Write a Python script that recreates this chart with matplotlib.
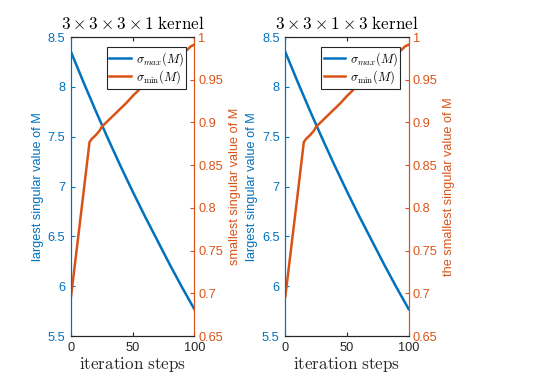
import matplotlib
matplotlib.use("Agg")
import matplotlib.pyplot as plt

plt.rcParams["font.family"] = ["Liberation Sans", "DejaVu Sans"]
plt.rcParams["mathtext.fontset"] = "cm"

BLUE = "#0072BD"
ORANGE = "#D95319"
DARK = "#262626"

# data
steps_max = [0, 10, 20, 30, 40, 50, 60, 70, 80, 90, 100]
sigma_max = [8.35, 8.05, 7.76, 7.48, 7.21, 6.95, 6.70, 6.46, 6.22, 5.99, 5.77]

steps_min = [0, 5, 10, 15, 17, 20, 23, 25, 30, 35, 40, 45, 50, 55, 60,
             65, 70, 75, 80, 85, 90, 95, 97, 100]
sigma_min = [0.696, 0.756, 0.816, 0.877, 0.881, 0.885, 0.890, 0.895, 0.902,
             0.909, 0.916, 0.923, 0.931, 0.938, 0.946, 0.952, 0.958, 0.964,
             0.969, 0.975, 0.980, 0.986, 0.989, 0.991]

titles = [r"$3\times3\times3\times1\ \mathrm{kernel}$",
          r"$3\times3\times1\times3\ \mathrm{kernel}$"]
right_labels = ["smallest singular value of M",
                "the smallest singular value of M"]
left_label = "largest singular value of M"

fig = plt.figure(figsize=(5.45, 3.86), dpi=100)
positions = [[0.1303, 0.1295, 0.2262, 0.7746],
             [0.5235, 0.1295, 0.2264, 0.7746]]

fs = 9.2
for pos, title, rlab in zip(positions, titles, right_labels):
    ax = fig.add_axes(pos)
    ax2 = ax.twinx()

    l1, = ax.plot(steps_max, sigma_max, color=BLUE, lw=1.8)
    l2, = ax2.plot(steps_min, sigma_min, color=ORANGE, lw=1.8)

    ax.set_xlim(0, 100)
    ax.set_ylim(5.5, 8.5)
    ax2.set_ylim(0.65, 1.0)
    ax.set_xticks([0, 50, 100])
    ax.set_yticks([5.5, 6, 6.5, 7, 7.5, 8, 8.5])
    ax2.set_yticks([0.65, 0.7, 0.75, 0.8, 0.85, 0.9, 0.95, 1.0])
    ax.set_yticklabels(["5.5", "6", "6.5", "7", "7.5", "8", "8.5"])
    ax2.set_yticklabels(["0.65", "0.7", "0.75", "0.8", "0.85", "0.9", "0.95", "1"])

    ax.tick_params(axis="x", direction="in", length=3, labelsize=fs,
                   colors=DARK, top=True, pad=4)
    ax.tick_params(axis="y", direction="in", length=3, labelsize=fs,
                   colors=BLUE, pad=4)
    ax2.tick_params(axis="y", direction="in", length=3, labelsize=fs,
                    colors=ORANGE, pad=3)

    for a in (ax, ax2):
        a.spines["left"].set_color(BLUE)
        a.spines["right"].set_color(ORANGE)
        a.spines["top"].set_color(DARK)
        a.spines["bottom"].set_color(DARK)
        for s in a.spines.values():
            s.set_linewidth(0.8)

    ax.set_title(title, fontsize=12.3, color="black", pad=6)
    ax.set_xlabel(r"$\mathrm{iteration\ steps}$", fontsize=12.3,
                  color=DARK, labelpad=1)
    ax.set_ylabel(left_label, fontsize=fs, color=BLUE, labelpad=3)
    ax2.set_ylabel(rlab, fontsize=fs, color=ORANGE, labelpad=4)

    leg = ax2.legend([l1, l2], [r"$\sigma_{max}(M)$", r"$\sigma_{\min}(M)$"],
                     loc="upper left", bbox_to_anchor=(0.29, 0.965),
                     fontsize=9, frameon=True, fancybox=False,
                     handlelength=1.7, handletextpad=0.4, borderpad=0.2,
                     labelspacing=0.05, borderaxespad=0)
    leg.get_frame().set_edgecolor(DARK)
    leg.get_frame().set_linewidth(0.8)
    leg.get_frame().set_alpha(1)

fig.savefig("out.png", dpi=100)
